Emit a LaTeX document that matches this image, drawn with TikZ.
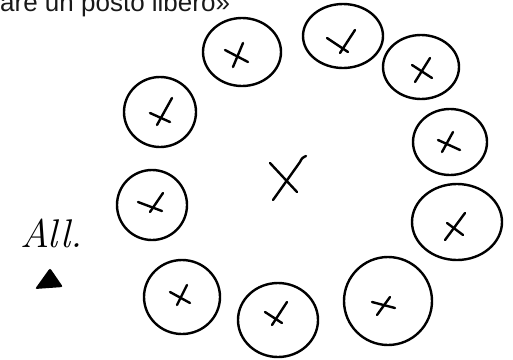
\documentclass[tikz,border=0pt]{standalone}
\usepackage{fontspec}
\setmainfont{Liberation Sans}
\newfontfamily\handfont{Latin Modern Roman}
\usepackage{tikz}

\tikzset{
  seat/.style={draw=black,line width=2.4pt},
  mark stroke/.style={draw=black,line width=2.4pt,line cap=round},
}

\begin{document}
\begin{tikzpicture}[x=1pt,y=-1pt]
  \useasboundingbox (0,0) rectangle (513,359);
  % caption (cut at top)
  \node[anchor=base west,inner sep=0pt,text=black!90] (caption) at (0,11)
    {\fontsize{26}{26}\selectfont are un posto libero»};
  % Seats round the table: centre x / centre y / half width / half height
  \foreach \sx/\sy/\rx/\ry in {242/52/39/34, 343/36/40/32, 421/67/38/32,
      160/112/36/35, 450/142/37/33, 152/205/35/35, 457/222/45/38,
      182/297/38/37, 278/320/40/37, 388/301/44/44}
  {\draw[seat] (\sx,\sy) ellipse [x radius=\rx, y radius=\ry];}
  % Crosses in the seats: first stroke / second stroke
  \foreach \ax/\ay/\bx/\by/\cx/\cy/\dx/\dy in {
      233/67/243/43/225/50/248/62, 340/53/355/30/327/38/348/52,
      415/82/430/58/412/65/432/78, 157/125/172/98/150/113/170/122,
      442/152/453/132/438/140/460/150, 150/212/163/193/138/202/162/211,
      445/240/465/213/447/223/463/235, 177/305/187/285/170/292/190/303,
      272/325/287/302/265/312/282/323, 377/315/390/297/372/302/395/308}
  {\draw[mark stroke] (\ax,\ay) -- (\bx,\by);
   \draw[mark stroke] (\cx,\cy) -- (\dx,\dy);}
  % Free place in the middle
  \draw[mark stroke] (270,163) -- (297,192);
  \draw[mark stroke] (273,200) -- (300,162) .. controls (302,158) .. (306,156);
  % Signature and mark on the left
  \node[anchor=base west,inner sep=0pt] (sign) at (20,247)
    {\handfont\itshape\fontsize{40}{40}\selectfont All.};
  \fill[black,rounded corners=2pt] (50,268) -- (35,289) -- (63,287) -- cycle;
\end{tikzpicture}
\end{document}
